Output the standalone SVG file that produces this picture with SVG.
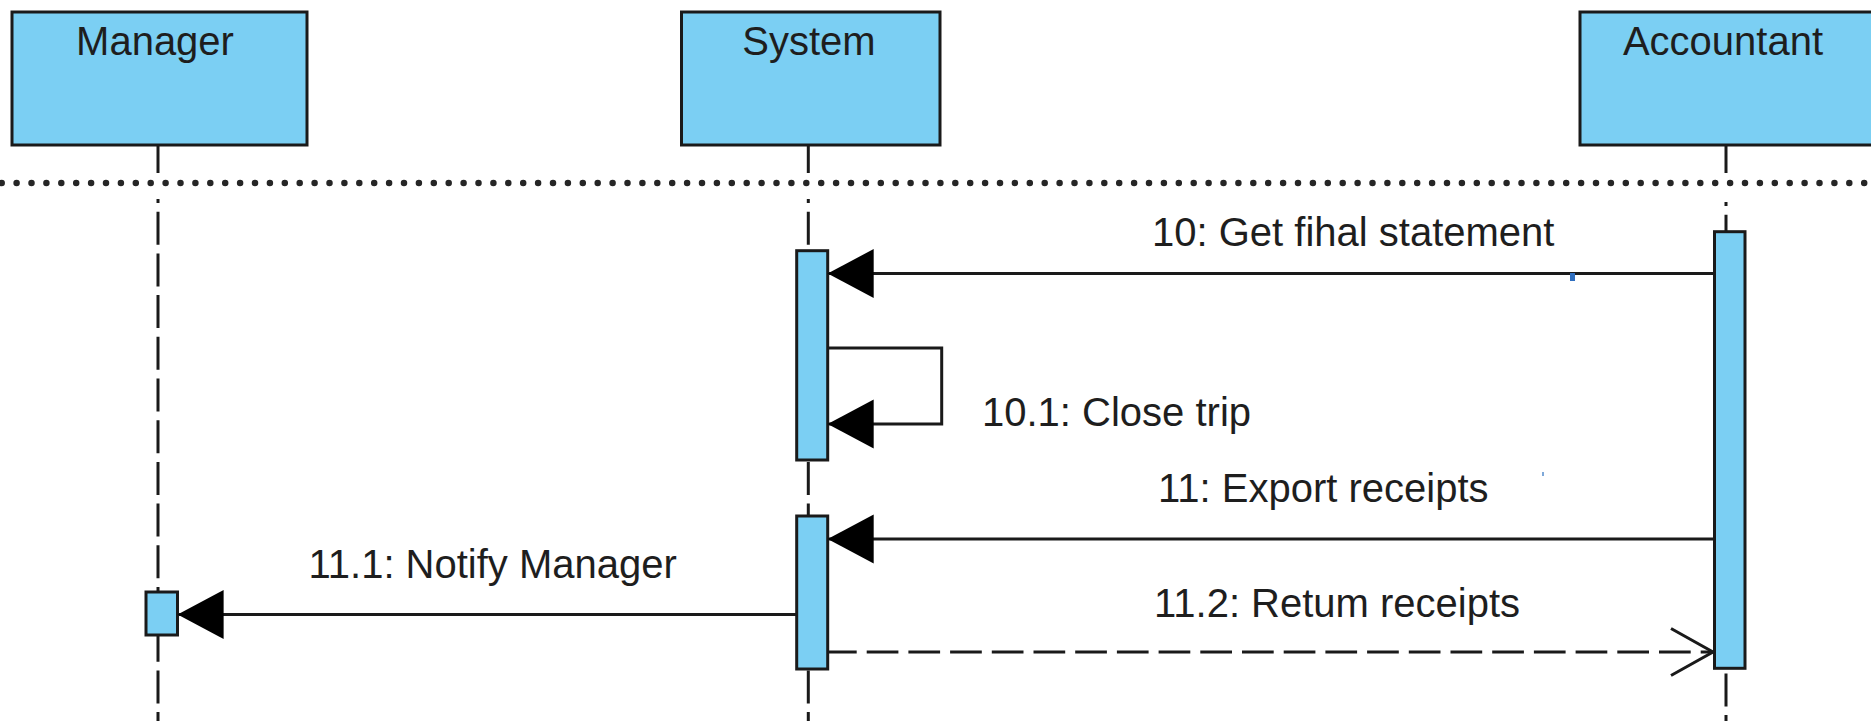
<svg xmlns="http://www.w3.org/2000/svg" width="1871" height="721" viewBox="0 0 1871 721">
<defs>
<style>
.box{fill:#7BCFF3;stroke:#1a1a1a;stroke-width:3}
.bar{fill:#7BCFF3;stroke:#1a1a1a;stroke-width:3}
.life{stroke:#1a1a1a;stroke-width:3;fill:none}
.dash{stroke:#1a1a1a;stroke-width:3;fill:none;stroke-dasharray:33 8.7;stroke-dashoffset:29}
.sep{stroke:#262626;stroke-width:6.5;stroke-linecap:round;stroke-dasharray:0 14.9;fill:none}
.msg{stroke:#1a1a1a;stroke-width:3;fill:none}
.ret{stroke:#1a1a1a;stroke-width:3;fill:none;stroke-dasharray:31.7 10}
.lbl{font-family:"Liberation Sans",Arial,sans-serif;font-size:40px;fill:#1e1e1e}
.name{font-family:"Liberation Sans",Arial,sans-serif;font-size:40px;fill:#1e1e1e;text-anchor:middle}
</style>
<marker id="filled" markerUnits="userSpaceOnUse" markerWidth="47" markerHeight="50" refX="46" refY="24.5" orient="auto" overflow="visible">
<path d="M0,0 L46,24.5 L0,49 Z" fill="#000"/>
</marker>
<marker id="open" markerUnits="userSpaceOnUse" markerWidth="44" markerHeight="50" refX="42" refY="23.5" orient="auto" overflow="visible">
<path d="M0,0 L42,23.5 L0,47" fill="none" stroke="#1a1a1a" stroke-width="3"/>
</marker>
</defs>
<rect x="0" y="0" width="1871" height="721" fill="#ffffff"/>

<g id="separator">
<line class="sep" x1="1.7" y1="183" x2="1871" y2="183"/>
</g>

<g id="manager">
<rect class="box" x="12" y="12" width="295" height="133"/>
<text class="name" x="155" y="55">Manager</text>
<line class="life" x1="158" y1="145" x2="158" y2="173"/>
<line class="dash" x1="158" y1="199" x2="158" y2="721"/>
<rect class="bar" x="146" y="592" width="31.5" height="43"/>
</g>

<g id="system">
<rect class="box" x="681.5" y="12" width="258.5" height="133"/>
<text class="name" x="809" y="55">System</text>
<line class="life" x1="808.3" y1="145" x2="808.3" y2="173"/>
<line class="dash" x1="808.3" y1="199" x2="808.3" y2="721"/>
<rect class="bar" x="796.7" y="250.7" width="31" height="209.3"/>
<rect class="bar" x="796.7" y="516" width="31" height="153"/>
</g>

<g id="accountant">
<rect class="box" x="1580" y="12" width="300" height="133"/>
<text class="name" x="1723" y="55">Accountant</text>
<line class="life" x1="1726" y1="145" x2="1726" y2="173"/>
<line class="dash" x1="1726" y1="202" x2="1726" y2="721"/>
<rect class="bar" x="1714.5" y="231.7" width="30.5" height="436.6"/>
</g>

<g id="connectors">
<line class="msg" x1="1714.5" y1="273.5" x2="827.7" y2="273.5" marker-end="url(#filled)"/>
<text class="lbl" x="1152" y="246">10: Get fihal statement</text>
<rect x="1570" y="273" width="5" height="8" fill="#2F6FC0"/>

<path class="msg" d="M827.7,348 H941.7 V424 H827.7" marker-end="url(#filled)"/>
<text class="lbl" x="982" y="426">10.1: Close trip</text>

<line class="msg" x1="1714.5" y1="539" x2="827.7" y2="539" marker-end="url(#filled)"/>
<text class="lbl" x="1158" y="502">11: Export receipts</text>
<rect x="1542" y="472" width="2" height="4" fill="#7fa9d9"/>

<line class="msg" x1="796.7" y1="614.5" x2="177.6" y2="614.5" marker-end="url(#filled)"/>
<text class="lbl" x="308.5" y="578">11.1: Notify Manager</text>

<line class="ret" x1="827.7" y1="652" x2="1713" y2="652" stroke-dashoffset="2.7" marker-end="url(#open)"/>
<text class="lbl" x="1154" y="617">11.2: Retum receipts</text>
</g>
</svg>
